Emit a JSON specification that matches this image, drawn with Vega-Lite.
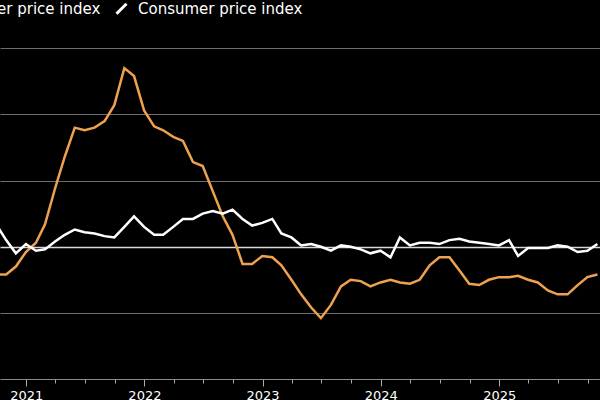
{
  "$schema": "https://vega.github.io/schema/vega-lite/v6.json",
  "width": 600,
  "height": 379,
  "autosize": "none",
  "padding": {"left": 0, "top": 0, "right": 0, "bottom": 21},
  "background": "#000000",
  "config": {"view": {"stroke": null}, "font": "DejaVu Sans"},
  "data": {"values": [
    {"date": "2020-09-30", "series": "Producer price index", "value": -2.1},
    {"date": "2020-10-31", "series": "Producer price index", "value": -2.1},
    {"date": "2020-11-30", "series": "Producer price index", "value": -1.5},
    {"date": "2020-12-31", "series": "Producer price index", "value": -0.4},
    {"date": "2021-01-31", "series": "Producer price index", "value": 0.3},
    {"date": "2021-02-28", "series": "Producer price index", "value": 1.7},
    {"date": "2021-03-31", "series": "Producer price index", "value": 4.4},
    {"date": "2021-04-30", "series": "Producer price index", "value": 6.8},
    {"date": "2021-05-31", "series": "Producer price index", "value": 9.0},
    {"date": "2021-06-30", "series": "Producer price index", "value": 8.8},
    {"date": "2021-07-31", "series": "Producer price index", "value": 9.0},
    {"date": "2021-08-31", "series": "Producer price index", "value": 9.5},
    {"date": "2021-09-30", "series": "Producer price index", "value": 10.7},
    {"date": "2021-10-31", "series": "Producer price index", "value": 13.5},
    {"date": "2021-11-30", "series": "Producer price index", "value": 12.9},
    {"date": "2021-12-31", "series": "Producer price index", "value": 10.3},
    {"date": "2022-01-31", "series": "Producer price index", "value": 9.1},
    {"date": "2022-02-28", "series": "Producer price index", "value": 8.8},
    {"date": "2022-03-31", "series": "Producer price index", "value": 8.3},
    {"date": "2022-04-30", "series": "Producer price index", "value": 8.0},
    {"date": "2022-05-31", "series": "Producer price index", "value": 6.4},
    {"date": "2022-06-30", "series": "Producer price index", "value": 6.1},
    {"date": "2022-07-31", "series": "Producer price index", "value": 4.2},
    {"date": "2022-08-31", "series": "Producer price index", "value": 2.3},
    {"date": "2022-09-30", "series": "Producer price index", "value": 0.9},
    {"date": "2022-10-31", "series": "Producer price index", "value": -1.3},
    {"date": "2022-11-30", "series": "Producer price index", "value": -1.3},
    {"date": "2022-12-31", "series": "Producer price index", "value": -0.7},
    {"date": "2023-01-31", "series": "Producer price index", "value": -0.8},
    {"date": "2023-02-28", "series": "Producer price index", "value": -1.4},
    {"date": "2023-03-31", "series": "Producer price index", "value": -2.5},
    {"date": "2023-04-30", "series": "Producer price index", "value": -3.6},
    {"date": "2023-05-31", "series": "Producer price index", "value": -4.6},
    {"date": "2023-06-30", "series": "Producer price index", "value": -5.4},
    {"date": "2023-07-31", "series": "Producer price index", "value": -4.4},
    {"date": "2023-08-31", "series": "Producer price index", "value": -3.0},
    {"date": "2023-09-30", "series": "Producer price index", "value": -2.5},
    {"date": "2023-10-31", "series": "Producer price index", "value": -2.6},
    {"date": "2023-11-30", "series": "Producer price index", "value": -3.0},
    {"date": "2023-12-31", "series": "Producer price index", "value": -2.7},
    {"date": "2024-01-31", "series": "Producer price index", "value": -2.5},
    {"date": "2024-02-29", "series": "Producer price index", "value": -2.7},
    {"date": "2024-03-31", "series": "Producer price index", "value": -2.8},
    {"date": "2024-04-30", "series": "Producer price index", "value": -2.5},
    {"date": "2024-05-31", "series": "Producer price index", "value": -1.4},
    {"date": "2024-06-30", "series": "Producer price index", "value": -0.8},
    {"date": "2024-07-31", "series": "Producer price index", "value": -0.8},
    {"date": "2024-08-31", "series": "Producer price index", "value": -1.8},
    {"date": "2024-09-30", "series": "Producer price index", "value": -2.8},
    {"date": "2024-10-31", "series": "Producer price index", "value": -2.9},
    {"date": "2024-11-30", "series": "Producer price index", "value": -2.5},
    {"date": "2024-12-31", "series": "Producer price index", "value": -2.3},
    {"date": "2025-01-31", "series": "Producer price index", "value": -2.3},
    {"date": "2025-02-28", "series": "Producer price index", "value": -2.2},
    {"date": "2025-03-31", "series": "Producer price index", "value": -2.5},
    {"date": "2025-04-30", "series": "Producer price index", "value": -2.7},
    {"date": "2025-05-31", "series": "Producer price index", "value": -3.3},
    {"date": "2025-06-30", "series": "Producer price index", "value": -3.6},
    {"date": "2025-07-31", "series": "Producer price index", "value": -3.6},
    {"date": "2025-08-31", "series": "Producer price index", "value": -2.9},
    {"date": "2025-09-30", "series": "Producer price index", "value": -2.3},
    {"date": "2025-10-31", "series": "Producer price index", "value": -2.1},
    {"date": "2020-09-30", "series": "Consumer price index", "value": 1.7},
    {"date": "2020-10-31", "series": "Consumer price index", "value": 0.5},
    {"date": "2020-11-30", "series": "Consumer price index", "value": -0.5},
    {"date": "2020-12-31", "series": "Consumer price index", "value": 0.2},
    {"date": "2021-01-31", "series": "Consumer price index", "value": -0.3},
    {"date": "2021-02-28", "series": "Consumer price index", "value": -0.2},
    {"date": "2021-03-31", "series": "Consumer price index", "value": 0.4},
    {"date": "2021-04-30", "series": "Consumer price index", "value": 0.9},
    {"date": "2021-05-31", "series": "Consumer price index", "value": 1.3},
    {"date": "2021-06-30", "series": "Consumer price index", "value": 1.1},
    {"date": "2021-07-31", "series": "Consumer price index", "value": 1.0},
    {"date": "2021-08-31", "series": "Consumer price index", "value": 0.8},
    {"date": "2021-09-30", "series": "Consumer price index", "value": 0.7},
    {"date": "2021-10-31", "series": "Consumer price index", "value": 1.5},
    {"date": "2021-11-30", "series": "Consumer price index", "value": 2.3},
    {"date": "2021-12-31", "series": "Consumer price index", "value": 1.5},
    {"date": "2022-01-31", "series": "Consumer price index", "value": 0.9},
    {"date": "2022-02-28", "series": "Consumer price index", "value": 0.9},
    {"date": "2022-03-31", "series": "Consumer price index", "value": 1.5},
    {"date": "2022-04-30", "series": "Consumer price index", "value": 2.1},
    {"date": "2022-05-31", "series": "Consumer price index", "value": 2.1},
    {"date": "2022-06-30", "series": "Consumer price index", "value": 2.5},
    {"date": "2022-07-31", "series": "Consumer price index", "value": 2.7},
    {"date": "2022-08-31", "series": "Consumer price index", "value": 2.5},
    {"date": "2022-09-30", "series": "Consumer price index", "value": 2.8},
    {"date": "2022-10-31", "series": "Consumer price index", "value": 2.1},
    {"date": "2022-11-30", "series": "Consumer price index", "value": 1.6},
    {"date": "2022-12-31", "series": "Consumer price index", "value": 1.8},
    {"date": "2023-01-31", "series": "Consumer price index", "value": 2.1},
    {"date": "2023-02-28", "series": "Consumer price index", "value": 1.0},
    {"date": "2023-03-31", "series": "Consumer price index", "value": 0.7},
    {"date": "2023-04-30", "series": "Consumer price index", "value": 0.1},
    {"date": "2023-05-31", "series": "Consumer price index", "value": 0.2},
    {"date": "2023-06-30", "series": "Consumer price index", "value": 0.0},
    {"date": "2023-07-31", "series": "Consumer price index", "value": -0.3},
    {"date": "2023-08-31", "series": "Consumer price index", "value": 0.1},
    {"date": "2023-09-30", "series": "Consumer price index", "value": 0.0},
    {"date": "2023-10-31", "series": "Consumer price index", "value": -0.2},
    {"date": "2023-11-30", "series": "Consumer price index", "value": -0.5},
    {"date": "2023-12-31", "series": "Consumer price index", "value": -0.3},
    {"date": "2024-01-31", "series": "Consumer price index", "value": -0.8},
    {"date": "2024-02-29", "series": "Consumer price index", "value": 0.7},
    {"date": "2024-03-31", "series": "Consumer price index", "value": 0.1},
    {"date": "2024-04-30", "series": "Consumer price index", "value": 0.3},
    {"date": "2024-05-31", "series": "Consumer price index", "value": 0.3},
    {"date": "2024-06-30", "series": "Consumer price index", "value": 0.2},
    {"date": "2024-07-31", "series": "Consumer price index", "value": 0.5},
    {"date": "2024-08-31", "series": "Consumer price index", "value": 0.6},
    {"date": "2024-09-30", "series": "Consumer price index", "value": 0.4},
    {"date": "2024-10-31", "series": "Consumer price index", "value": 0.3},
    {"date": "2024-11-30", "series": "Consumer price index", "value": 0.2},
    {"date": "2024-12-31", "series": "Consumer price index", "value": 0.1},
    {"date": "2025-01-31", "series": "Consumer price index", "value": 0.5},
    {"date": "2025-02-28", "series": "Consumer price index", "value": -0.7},
    {"date": "2025-03-31", "series": "Consumer price index", "value": -0.1},
    {"date": "2025-04-30", "series": "Consumer price index", "value": -0.1},
    {"date": "2025-05-31", "series": "Consumer price index", "value": -0.1},
    {"date": "2025-06-30", "series": "Consumer price index", "value": 0.1},
    {"date": "2025-07-31", "series": "Consumer price index", "value": 0.0},
    {"date": "2025-08-31", "series": "Consumer price index", "value": -0.4},
    {"date": "2025-09-30", "series": "Consumer price index", "value": -0.3},
    {"date": "2025-10-31", "series": "Consumer price index", "value": 0.2}
  ]},
  "mark": {"type": "line", "strokeWidth": 2.5, "clip": true},
  "encoding": {
    "x": {
      "field": "date",
      "type": "temporal",
      "title": null,
      "scale": {"domain": [{"year": 2020, "month": 10, "date": 12}, {"year": 2025, "month": 11, "date": 8}]},
      "axis": {
        "values": [
          {"year": 2020, "month": 10, "date": 1},
          {"year": 2021, "month": 1, "date": 1}, {"year": 2021, "month": 4, "date": 1}, {"year": 2021, "month": 7, "date": 1}, {"year": 2021, "month": 10, "date": 1},
          {"year": 2022, "month": 1, "date": 1}, {"year": 2022, "month": 4, "date": 1}, {"year": 2022, "month": 7, "date": 1}, {"year": 2022, "month": 10, "date": 1},
          {"year": 2023, "month": 1, "date": 1}, {"year": 2023, "month": 4, "date": 1}, {"year": 2023, "month": 7, "date": 1}, {"year": 2023, "month": 10, "date": 1},
          {"year": 2024, "month": 1, "date": 1}, {"year": 2024, "month": 4, "date": 1}, {"year": 2024, "month": 7, "date": 1}, {"year": 2024, "month": 10, "date": 1},
          {"year": 2025, "month": 1, "date": 1}, {"year": 2025, "month": 4, "date": 1}, {"year": 2025, "month": 7, "date": 1}, {"year": 2025, "month": 10, "date": 1}
        ],
        "labelExpr": "month(datum.value) == 0 ? timeFormat(datum.value, '%Y') : ''",
        "tickSize": {"condition": {"test": "month(datum.value) == 0", "value": 7}, "value": 4},
        "grid": false,
        "domainColor": "#8a8a8a",
        "tickColor": "#aaaaaa",
        "labelColor": "#ffffff",
        "labelFont": "DejaVu Sans",
        "labelFontSize": 13,
        "labelPadding": 3,
        "labelFlush": false,
        "labelOverlap": false
      }
    },
    "y": {
      "field": "value",
      "type": "quantitative",
      "title": null,
      "scale": {"domain": [-10, 18.65], "nice": false, "zero": false},
      "axis": {
        "values": [-5, 0, 5, 10, 15],
        "labels": false,
        "ticks": false,
        "domain": false,
        "grid": true,
        "gridColor": {"condition": {"test": "datum.value === 0", "value": "#d8d8d8"}, "value": "#6e6e6e"},
        "gridWidth": {"condition": {"test": "datum.value === 0", "value": 1.5}, "value": 1}
      }
    },
    "color": {
      "field": "series",
      "type": "nominal",
      "scale": {"domain": ["Producer price index", "Consumer price index"], "range": ["#eea24f", "#ffffff"]},
      "legend": {
        "title": null,
        "orient": "none",
        "legendX": -78,
        "legendY": 1,
        "direction": "horizontal",
        "symbolType": "M-1,1L1,-1",
        "symbolSize": 100,
        "symbolStrokeWidth": 3,
        "labelFont": "DejaVu Sans",
        "labelFontSize": 15,
        "labelColor": "#ffffff",
        "labelOffset": 9,
        "labelLimit": 400,
        "columnPadding": 9,
        "padding": 0
      }
    }
  }
}
